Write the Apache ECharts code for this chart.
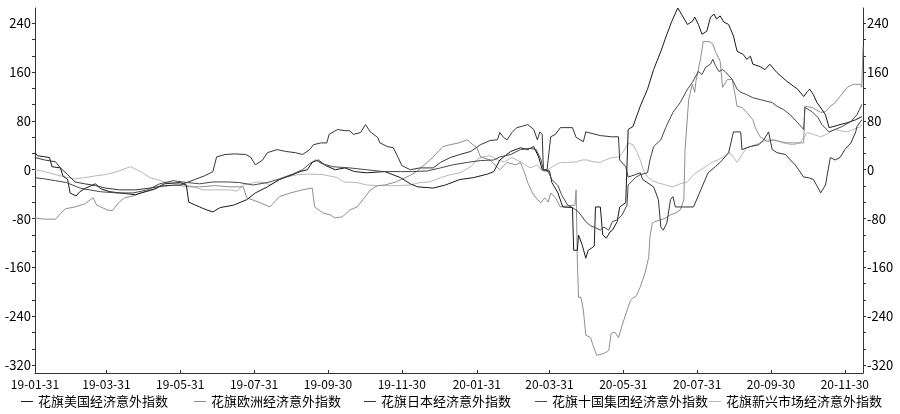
<!DOCTYPE html>
<html><head><meta charset="utf-8">
<script src="https://cdn.jsdelivr.net/npm/echarts@6/dist/echarts.min.js"></script>
<style>html,body{margin:0;padding:0;background:#fff}#c{width:900px;height:414px}</style>
</head><body><div id="c"></div>
<script>
const seriesNames = ['花旗美国经济意外指数','花旗欧洲经济意外指数','花旗日本经济意外指数','花旗十国集团经济意外指数','花旗新兴市场经济意外指数'];
const xLabelDates = ['2019-01-31','2019-03-31','2019-05-31','2019-07-31','2019-09-30','2019-11-30','2020-01-31','2020-03-31','2020-05-31','2020-07-31','2020-09-30','2020-11-30'];
const yLabelValues = [-320,-240,-160,-80,0,80,160,240];

const usData = [['2019-01-31',28],['2019-02-02',23],['2019-02-12',20],['2019-02-14',5],['2019-02-21',3],['2019-02-23',-10],['2019-02-27',-16],['2019-03-01',-38],['2019-03-06',-43],['2019-03-09',-36],['2019-03-14',-30],['2019-03-22',-23],['2019-03-26',-31],['2019-04-03',-36],['2019-04-11',-38],['2019-04-24',-41],['2019-05-02',-36],['2019-05-10',-31],['2019-05-18',-23],['2019-05-31',-21],['2019-06-05',-25],['2019-06-07',-53],['2019-06-16',-61],['2019-06-22',-66],['2019-06-27',-69],['2019-07-03',-62],['2019-07-14',-58],['2019-07-25',-49],['2019-08-01',-38],['2019-08-11',-28],['2019-08-21',-16],['2019-09-01',-8],['2019-09-07',-3],['2019-09-13',0],['2019-09-17',12],['2019-09-22',16],['2019-09-28',7],['2019-10-06',0],['2019-10-14',3],['2019-10-22',-3],['2019-11-01',-5],['2019-11-16',-3],['2019-11-29',-13],['2019-12-07',-23],['2019-12-13',-28],['2019-12-26',-30],['2020-01-05',-25],['2020-01-17',-16],['2020-01-28',-13],['2020-02-09',-7],['2020-02-14',-3],['2020-02-19',16],['2020-02-28',30],['2020-03-07',36],['2020-03-13',33],['2020-03-18',38],['2020-03-22',21],['2020-03-25',0],['2020-03-31',-2],['2020-04-02',-21],['2020-04-07',-38],['2020-04-11',-61],['2020-04-19',-62],['2020-04-20',-132],['2020-04-23',-132],['2020-04-24',-107],['2020-04-27',-123],['2020-04-30',-145],['2020-05-02',-132],['2020-05-05',-128],['2020-05-07',-125],['2020-05-08',-61],['2020-05-12',-61],['2020-05-14',-107],['2020-05-17',-112],['2020-05-20',-102],['2020-05-22',-99],['2020-05-26',-85],['2020-05-28',-61],['2020-06-02',-54],['2020-06-04',66],['2020-06-08',71],['2020-06-14',104],['2020-06-20',132],['2020-06-25',164],['2020-07-01',194],['2020-07-06',222],['2020-07-10',243],['2020-07-15',265],['2020-07-18',255],['2020-07-23',238],['2020-07-27',243],['2020-07-29',250],['2020-08-01',238],['2020-08-04',222],['2020-08-08',227],['2020-08-11',250],['2020-08-14',255],['2020-08-16',247],['2020-08-19',252],['2020-08-22',242],['2020-08-26',238],['2020-08-27',235],['2020-08-30',219],['2020-09-02',194],['2020-09-07',189],['2020-09-10',181],['2020-09-13',186],['2020-09-15',173],['2020-09-21',169],['2020-09-25',164],['2020-09-29',173],['2020-10-05',159],['2020-10-13',145],['2020-10-22',132],['2020-10-27',120],['2020-10-30',128],['2020-11-01',132],['2020-11-04',123],['2020-11-07',110],['2020-11-11',99],['2020-11-14',90],['2020-11-17',69],['2020-11-21',71],['2020-11-26',74],['2020-12-02',77],['2020-12-09',82],['2020-12-14',87]];

const euData = [['2019-01-31',-79],['2019-02-08',-81],['2019-02-17',-81],['2019-02-21',-72],['2019-02-25',-64],['2019-03-05',-61],['2019-03-13',-56],['2019-03-20',-46],['2019-03-23',-58],['2019-04-01',-66],['2019-04-05',-67],['2019-04-10',-54],['2019-04-15',-46],['2019-04-22',-43],['2019-04-28',-38],['2019-05-09',-33],['2019-05-14',-28],['2019-05-27',-25],['2019-06-08',-28],['2019-06-16',-28],['2019-06-29',-26],['2019-07-11',-28],['2019-07-22',-28],['2019-07-25',-46],['2019-08-05',-54],['2019-08-13',-61],['2019-08-21',-44],['2019-08-30',-38],['2019-09-09',-33],['2019-09-17',-30],['2019-09-19',-61],['2019-09-26',-71],['2019-10-02',-74],['2019-10-06',-79],['2019-10-12',-77],['2019-10-18',-66],['2019-10-24',-61],['2019-10-29',-49],['2019-11-04',-33],['2019-11-10',-26],['2019-11-16',-25],['2019-11-25',-20],['2019-12-03',-13],['2019-12-11',-5],['2019-12-21',12],['2019-12-26',21],['2020-01-03',38],['2020-01-09',41],['2020-01-16',44],['2020-01-23',49],['2020-01-26',44],['2020-01-31',36],['2020-02-03',21],['2020-02-11',16],['2020-02-19',0],['2020-02-25',12],['2020-03-03',8],['2020-03-07',12],['2020-03-11',-8],['2020-03-13',-21],['2020-03-17',-38],['2020-03-21',-49],['2020-03-24',-54],['2020-03-27',-46],['2020-03-30',-53],['2020-04-01',-38],['2020-04-05',-46],['2020-04-06',-49],['2020-04-09',-61],['2020-04-16',-59],['2020-04-21',-58],['2020-04-22',-33],['2020-04-23',-148],['2020-04-24',-209],['2020-04-26',-209],['2020-04-28',-230],['2020-04-30',-271],['2020-05-04',-275],['2020-05-06',-288],['2020-05-09',-304],['2020-05-15',-301],['2020-05-19',-296],['2020-05-21',-268],['2020-05-24',-266],['2020-05-27',-275],['2020-05-30',-255],['2020-06-04',-225],['2020-06-06',-214],['2020-06-08',-210],['2020-06-11',-206],['2020-06-14',-192],['2020-06-18',-169],['2020-06-21',-143],['2020-06-22',-110],['2020-06-24',-87],['2020-06-26',-85],['2020-07-01',-82],['2020-07-05',-79],['2020-07-09',-74],['2020-07-13',-71],['2020-07-17',-66],['2020-07-20',-49],['2020-07-21',33],['2020-07-24',115],['2020-07-27',140],['2020-07-29',127],['2020-07-30',145],['2020-08-03',184],['2020-08-05',210],['2020-08-10',210],['2020-08-13',206],['2020-08-15',194],['2020-08-19',178],['2020-08-21',135],['2020-08-25',148],['2020-08-29',148],['2020-09-01',115],['2020-09-02',104],['2020-09-06',102],['2020-09-10',94],['2020-09-15',82],['2020-09-17',69],['2020-09-21',54],['2020-09-27',46],['2020-10-02',49],['2020-10-08',46],['2020-10-13',44],['2020-10-20',44],['2020-10-27',44],['2020-10-28',104],['2020-11-03',102],['2020-11-10',94],['2020-11-14',95],['2020-11-18',104],['2020-11-22',110],['2020-11-26',120],['2020-12-02',135],['2020-12-07',140],['2020-12-13',140],['2020-12-14',135],['2020-12-15',201]];

const jpData = [['2019-01-31',20],['2019-02-08',16],['2019-02-17',13],['2019-02-21',3],['2019-02-27',-8],['2019-03-05',-20],['2019-03-13',-23],['2019-03-22',-26],['2019-03-30',-30],['2019-04-11',-33],['2019-04-24',-33],['2019-05-06',-30],['2019-05-18',-26],['2019-05-31',-25],['2019-06-12',-16],['2019-06-20',-10],['2019-06-27',-3],['2019-06-30',21],['2019-07-07',25],['2019-07-15',26],['2019-07-24',25],['2019-07-28',21],['2019-08-01',8],['2019-08-07',16],['2019-08-11',28],['2019-08-19',33],['2019-08-26',30],['2019-09-03',28],['2019-09-09',25],['2019-09-15',33],['2019-09-18',41],['2019-09-24',44],['2019-09-29',44],['2019-10-01',58],['2019-10-08',66],['2019-10-14',64],['2019-10-18',64],['2019-10-21',58],['2019-10-27',61],['2019-10-31',74],['2019-11-04',62],['2019-11-10',53],['2019-11-12',44],['2019-11-18',38],['2019-11-23',36],['2019-11-27',20],['2019-11-30',7],['2019-12-07',0],['2019-12-15',3],['2019-12-26',3],['2020-01-01',12],['2020-01-09',20],['2020-01-17',25],['2020-01-26',30],['2020-02-03',41],['2020-02-11',48],['2020-02-17',49],['2020-02-19',61],['2020-02-22',53],['2020-02-25',49],['2020-02-29',61],['2020-03-04',69],['2020-03-08',71],['2020-03-13',74],['2020-03-18',66],['2020-03-21',49],['2020-03-23',62],['2020-03-25',58],['2020-03-26',0],['2020-03-29',0],['2020-04-01',54],['2020-04-05',58],['2020-04-09',69],['2020-04-19',69],['2020-04-22',53],['2020-04-28',46],['2020-04-30',62],['2020-05-12',56],['2020-05-21',54],['2020-05-27',54],['2020-05-28',16],['2020-06-02',5],['2020-06-04',-12],['2020-06-10',-8],['2020-06-14',-5],['2020-06-16',-16],['2020-06-25',-28],['2020-06-29',-49],['2020-07-01',-94],['2020-07-03',-99],['2020-07-06',-87],['2020-07-09',-49],['2020-07-11',-44],['2020-07-13',-61],['2020-07-28',-61],['2020-08-03',-33],['2020-08-09',-5],['2020-08-15',5],['2020-08-19',12],['2020-08-26',28],['2020-08-30',62],['2020-09-05',62],['2020-09-06',33],['2020-09-13',38],['2020-09-20',41],['2020-09-24',49],['2020-09-28',62],['2020-10-01',33],['2020-10-05',28],['2020-10-12',25],['2020-10-16',16],['2020-10-20',8],['2020-10-27',-12],['2020-10-31',-13],['2020-11-04',-16],['2020-11-08',-30],['2020-11-10',-38],['2020-11-14',-25],['2020-11-18',20],['2020-11-22',16],['2020-11-26',20],['2020-11-30',33],['2020-12-05',44],['2020-12-09',62],['2020-12-10',71],['2020-12-13',79],['2020-12-14',82]];

const g10Data = [['2019-01-31',-13],['2019-02-08',-15],['2019-02-17',-18],['2019-02-26',-21],['2019-03-09',-30],['2019-03-17',-33],['2019-03-26',-36],['2019-04-09',-38],['2019-04-22',-38],['2019-05-04',-33],['2019-05-14',-23],['2019-05-25',-18],['2019-06-06',-21],['2019-06-16',-23],['2019-06-27',-20],['2019-07-09',-20],['2019-07-19',-21],['2019-07-30',-25],['2019-08-11',-21],['2019-08-21',-15],['2019-09-01',-7],['2019-09-09',0],['2019-09-15',10],['2019-09-20',16],['2019-09-25',10],['2019-10-04',5],['2019-10-18',3],['2019-11-01',0],['2019-11-15',-3],['2019-11-29',-3],['2019-12-09',-3],['2019-12-21',-2],['2020-01-01',3],['2020-01-11',8],['2020-01-23',12],['2020-02-03',15],['2020-02-14',16],['2020-02-19',21],['2020-02-28',25],['2020-03-07',33],['2020-03-15',35],['2020-03-20',33],['2020-03-24',16],['2020-03-26',0],['2020-03-30',-3],['2020-04-02',-16],['2020-04-07',-26],['2020-04-10',-41],['2020-04-15',-58],['2020-04-19',-62],['2020-04-24',-69],['2020-04-30',-85],['2020-05-04',-92],['2020-05-08',-95],['2020-05-12',-99],['2020-05-15',-94],['2020-05-19',-99],['2020-05-22',-85],['2020-05-26',-82],['2020-05-30',-74],['2020-06-03',-58],['2020-06-04',-25],['2020-06-10',-13],['2020-06-14',-8],['2020-06-20',-5],['2020-06-22',16],['2020-06-25',38],['2020-07-01',49],['2020-07-05',69],['2020-07-11',94],['2020-07-17',110],['2020-07-23',132],['2020-07-27',143],['2020-08-01',161],['2020-08-04',156],['2020-08-07',168],['2020-08-11',173],['2020-08-13',181],['2020-08-15',171],['2020-08-18',161],['2020-08-21',164],['2020-08-23',161],['2020-08-29',148],['2020-09-02',132],['2020-09-05',127],['2020-09-10',123],['2020-09-15',118],['2020-09-21',115],['2020-10-01',110],['2020-10-05',104],['2020-10-10',99],['2020-10-16',90],['2020-10-22',77],['2020-10-27',66],['2020-10-28',102],['2020-11-03',95],['2020-11-08',85],['2020-11-11',74],['2020-11-17',62],['2020-11-22',66],['2020-11-28',71],['2020-12-05',79],['2020-12-10',90],['2020-12-14',107]];

const emData = [['2019-01-31',0],['2019-02-08',-3],['2019-02-17',-8],['2019-02-25',-12],['2019-03-05',-15],['2019-03-13',-13],['2019-03-22',-10],['2019-03-30',-8],['2019-04-09',-3],['2019-04-17',3],['2019-04-20',5],['2019-04-25',0],['2019-04-30',-5],['2019-05-06',-13],['2019-05-12',-16],['2019-05-18',-20],['2019-05-31',-23],['2019-06-11',-28],['2019-06-19',-33],['2019-06-29',-33],['2019-07-11',-33],['2019-07-17',-35],['2019-07-22',-25],['2019-08-02',-20],['2019-08-09',-21],['2019-08-13',-25],['2019-08-24',-13],['2019-09-05',-8],['2019-09-15',-7],['2019-09-26',-8],['2019-10-08',-13],['2019-10-13',-20],['2019-10-24',-21],['2019-11-01',-25],['2019-11-10',-26],['2019-11-26',-26],['2019-12-07',-25],['2019-12-15',-21],['2019-12-23',-20],['2020-01-01',-13],['2020-01-09',-8],['2020-01-17',-5],['2020-01-26',5],['2020-01-31',16],['2020-02-04',21],['2020-02-11',23],['2020-02-17',16],['2020-02-23',13],['2020-02-29',20],['2020-03-04',16],['2020-03-08',12],['2020-03-15',3],['2020-03-21',8],['2020-03-24',0],['2020-03-27',-3],['2020-04-01',3],['2020-04-05',8],['2020-04-09',12],['2020-04-15',12],['2020-04-22',13],['2020-04-27',16],['2020-05-01',16],['2020-05-06',13],['2020-05-12',12],['2020-05-16',16],['2020-05-22',20],['2020-05-28',21],['2020-06-01',33],['2020-06-04',44],['2020-06-08',41],['2020-06-11',30],['2020-06-14',16],['2020-06-17',-3],['2020-06-20',-12],['2020-06-24',-18],['2020-06-28',-21],['2020-07-05',-25],['2020-07-11',-28],['2020-07-17',-23],['2020-07-23',-20],['2020-07-28',-8],['2020-08-03',0],['2020-08-09',8],['2020-08-13',13],['2020-08-17',16],['2020-08-23',23],['2020-08-27',28],['2020-09-02',12],['2020-09-06',25],['2020-09-10',36],['2020-09-17',41],['2020-09-27',49],['2020-10-04',48],['2020-10-10',44],['2020-10-18',41],['2020-10-24',44],['2020-10-30',61],['2020-11-04',58],['2020-11-10',54],['2020-11-16',59],['2020-11-21',66],['2020-11-26',64],['2020-12-02',62],['2020-12-07',66],['2020-12-13',71],['2020-12-14',74]];

const seriesData = [usData, euData, jpData, g10Data, emData];
const seriesColors = ['#1a1a1a','#8f8f8f','#363636','#484848','#b8b8b8'];
const legendLefts = [21, 194, 364, 535, 709];

function ts(s){ const p = s.split('-').map(Number); return new Date(p[0], p[1]-1, p[2]).getTime(); }
const font = "'Noto Sans CJK SC', 'Noto Sans', sans-serif";
const pad2 = n => (n < 10 ? '0' : '') + n;
const yMin = -333, yMax = 265;
const yTicks = [];
for (let k = -1; k <= 21; k++) { const v = 240 - k * 80 / 3; if (v >= yMin && v <= yMax) yTicks.push(v); }

const yAxisBase = (pos) => ({
  type: 'value', position: pos, min: yMin, max: yMax,
  axisLine: { show: true, onZero: false, lineStyle: { color: '#333', width: 1 } },
  axisTick: { show: true, length: 3, customValues: yTicks, lineStyle: { color: '#333' } },
  axisLabel: { customValues: yLabelValues, fontSize: 13, color: '#000', fontFamily: font, margin: 4 },
  splitLine: { show: false }
});

const chart = echarts.init(document.getElementById('c'), null, { renderer: 'canvas' });
chart.setOption({
  animation: false,
  backgroundColor: '#fff',
  grid: { left: 35, right: 37, top: 8, bottom: 41, containLabel: false },
  xAxis: {
    type: 'value', min: ts('2019-01-31'), max: ts('2020-12-15'), scale: true,
    axisLine: { show: true, onZero: false, lineStyle: { color: '#333', width: 1 } },
    axisTick: { show: true, inside: true, length: 3, customValues: xLabelDates.map(ts), lineStyle: { color: '#333' } },
    axisLabel: {
      customValues: xLabelDates.map(ts), fontSize: 12, color: '#000', fontFamily: font, margin: 5,
      formatter: (v) => { const d = new Date(v); return pad2(d.getFullYear() % 100) + '-' + pad2(d.getMonth() + 1) + '-' + pad2(d.getDate()); }
    },
    splitLine: { show: false }
  },
  yAxis: [yAxisBase('left'), yAxisBase('right')],
  legend: seriesNames.map((n, i) => ({
    data: [n], left: legendLefts[i], top: 395, padding: 0,
    icon: 'rect', itemWidth: 12, itemHeight: 1, itemGap: 0,
    textStyle: { fontSize: 13, color: '#000', fontFamily: font }
  })),
  series: seriesNames.map((n, i) => ({
    name: n, type: 'line', data: seriesData[i].map(p => [ts(p[0]), p[1]]), yAxisIndex: 0,
    showSymbol: false, symbol: 'none',
    lineStyle: { color: seriesColors[i], width: 1 },
    itemStyle: { color: seriesColors[i] },
    z: [3, 2, 3, 3, 1][i]
  }))
});
</script></body></html>
